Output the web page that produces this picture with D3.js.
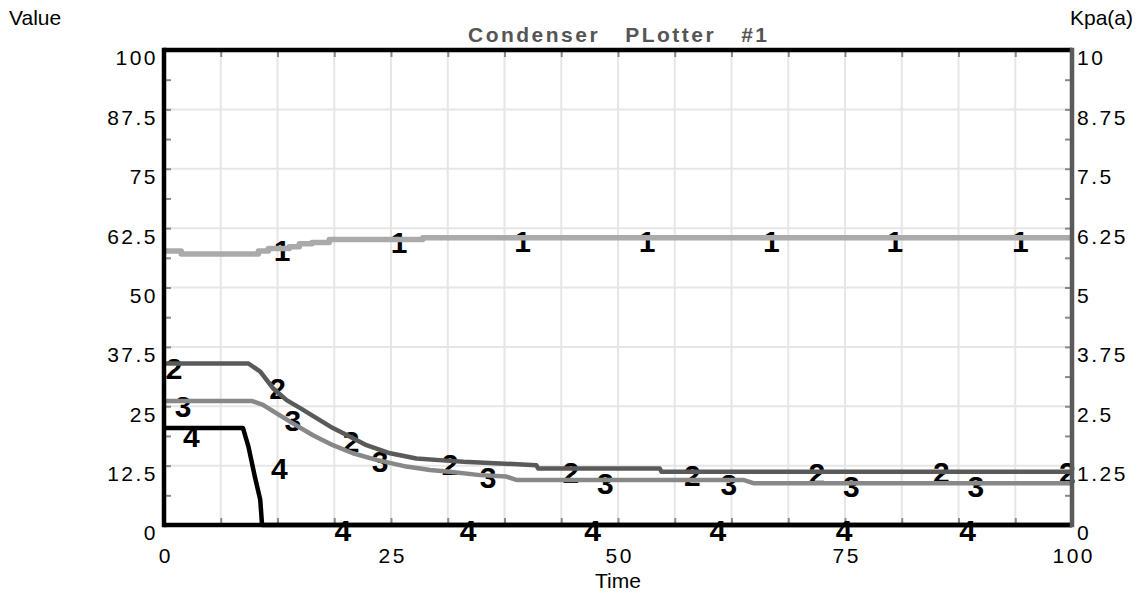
<!DOCTYPE html>
<html>
<head>
<meta charset="utf-8">
<script src="https://cdn.jsdelivr.net/npm/d3@7"></script>
<style>
  html, body { margin: 0; padding: 0; background: #fff; }
  svg { display: block; font-family: "Liberation Sans", Arial, sans-serif; }
</style>
</head>
<body>
<svg id="chart" width="1140" height="598"></svg>
<script>
// ---------- data ----------
const chartTitle = "Condenser   PLotter   #1";
const leftAxisTitle = "Value";
const rightAxisTitle = "Kpa(a)";
const xAxisTitle = "Time";

const xTickValues = [0, 25, 50, 75, 100];
const leftTickValues = [0, 12.5, 25, 37.5, 50, 62.5, 75, 87.5, 100];
const rightTickLabels = ["0", "1.25", "2.5", "3.75", "5", "6.25", "7.5", "8.75", "10"];

// series 1 (light gray)
const s1T = [0, 1.9, 10.4, 11.5, 13.8, 14.9, 16.3, 18.2, 28.5, 100];
const s1V = [57.7, 57.05, 57.7, 58.2, 58.6, 59.2, 59.5, 60.1, 60.5, 60.5];
// series 2 (dark gray)
const s2T = [0, 9.3, 10.6, 12.0, 13.5, 15.0, 16.8, 18.6, 20.5, 22.3, 24.9, 27.8, 31.5, 33, 41, 41.2, 54.6, 54.8, 100];
const s2V = [34.0, 34.0, 32.3, 28.8, 26.3, 24.6, 22.5, 20.4, 18.6, 16.8, 15.1, 14.0, 13.5, 13.3, 12.6, 11.9, 11.9, 11.2, 11.2];
// series 3 (mid gray)
const s3T = [0, 9.7, 10.9, 12.4, 14.2, 16.4, 18.6, 20.8, 23.4, 26.7, 29.3, 31.5, 34.8, 37.7, 38.8, 63.8, 64.9, 100];
const s3V = [26.1, 26.1, 25.3, 23.5, 21.4, 18.9, 16.8, 15.1, 13.7, 12.3, 11.6, 11.2, 10.5, 10.2, 9.5, 9.5, 8.8, 8.8];
// series 4 (black)
const s4T = [0, 8.7, 9.3, 10.0, 10.6, 10.8, 100];
const s4V = [20.4, 20.4, 16.5, 10.2, 5.3, 0, 0];

// curve marker labels
const lab1T = [13.0, 25.9, 39.5, 53.2, 66.9, 80.5, 94.3];
const lab1V = [57.9, 59.6, 59.8, 59.8, 59.8, 59.8, 59.8];
const lab2T = [1.1, 12.5, 20.6, 31.5, 44.8, 58.2, 71.9, 85.6, 99.5];
const lab2V = [33.0, 28.9, 17.6, 12.8, 11.1, 10.4, 10.9, 11.2, 11.2];
const lab3T = [2.1, 14.2, 23.8, 35.7, 48.6, 62.2, 75.7, 89.4];
const lab3V = [25.1, 22.1, 13.5, 10.0, 8.8, 8.6, 8.1, 8.1];
const lab4T = [3.0, 12.7, 19.7, 33.5, 47.2, 61.0, 74.9, 88.5];
const lab4V = [18.8, 11.9, -1.0, -1.0, -1.0, -1.0, -1.0, -1.0];

// ---------- layout ----------
const L = 164, R = 1072, T = 50, B = 525;
const svg = d3.select("#chart");
const x = d3.scaleLinear().domain([0, 100]).range([L, R]);
const y = d3.scaleLinear().domain([0, 100]).range([B, T]);
const yR = d3.scaleLinear().domain([0, 10]).range([B, T]);

const minorX = d3.range(0, 100.001, 6.25);
const minorY = d3.range(0, 100.001, 6.25);
const minorYR = d3.range(0, 10.0001, 0.625);

// grid
const grid = svg.append("g");
grid.selectAll("line.v").data(minorX).join("line")
  .attr("x1", d => x(d)).attr("x2", d => x(d)).attr("y1", T).attr("y2", B)
  .attr("stroke", "#e6e6e6").attr("stroke-width", 2);
grid.selectAll("line.h").data(leftTickValues).join("line")
  .attr("x1", L).attr("x2", R).attr("y1", d => y(d)).attr("y2", d => y(d))
  .attr("stroke", "#e6e6e6").attr("stroke-width", 2);

// minor ticks (inward)
function tickAxis(axis, tx, ty) {
  const g = svg.append("g").attr("transform", `translate(${tx},${ty})`).call(axis);
  g.select(".domain").remove();
  g.selectAll("text").remove();
  g.selectAll("line").attr("stroke", "#8a8a8a").attr("stroke-width", 2);
}
tickAxis(d3.axisLeft(y).tickValues(minorY).tickSize(-7), L, 0);
tickAxis(d3.axisRight(yR).tickValues(minorYR).tickSize(-7), R, 0);
tickAxis(d3.axisTop(x).tickValues(minorX).tickSize(-7), 0, T);
tickAxis(d3.axisBottom(x).tickValues(minorX).tickSize(-7), 0, B);

// label axes
const tickFont = 21, ls = 2.5;
const gl = svg.append("g").attr("transform", `translate(${L},0)`)
  .call(d3.axisLeft(y).tickValues(leftTickValues).tickSize(0).tickPadding(6).tickFormat(d => String(d)));
gl.select(".domain").remove();
gl.selectAll("text").attr("dy", "0.71em").attr("font-size", tickFont).attr("letter-spacing", ls)
  .attr("fill", "#000").attr("font-family", null);

const rightVals = rightTickLabels.map(Number);
const gr = svg.append("g").attr("transform", `translate(${R},0)`)
  .call(d3.axisRight(yR).tickValues(rightVals).tickSize(0).tickPadding(5)
    .tickFormat((d, i) => rightTickLabels[i]));
gr.select(".domain").remove();
gr.selectAll("text").attr("dy", "0.71em").attr("font-size", tickFont).attr("letter-spacing", ls)
  .attr("fill", "#000").attr("font-family", null);

const gb = svg.append("g").attr("transform", `translate(0,${B})`)
  .call(d3.axisBottom(x).tickValues(xTickValues).tickSize(0).tickPadding(23).tickFormat(d => String(d)));
gb.select(".domain").remove();
gb.selectAll("text").attr("font-size", tickFont).attr("letter-spacing", ls)
  .attr("dx", ls / 2).attr("fill", "#000").attr("font-family", null);

// curve labels (drawn under the lines)
const labelSets = [[lab1T, lab1V, "1"], [lab2T, lab2V, "2"], [lab3T, lab3V, "3"], [lab4T, lab4V, "4"]];
const labG = svg.append("g");
labelSets.forEach(([ts, vs, txt]) => {
  labG.selectAll(null).data(ts.map((t, i) => [t, vs[i]])).join("text")
    .attr("x", d => x(d[0])).attr("y", d => y(d[1]))
    .attr("dy", "0.36em").attr("text-anchor", "middle")
    .attr("font-size", 30).attr("font-weight", "bold").attr("fill", "#000")
    .text(txt);
});

// series lines
const line = d3.line().x(d => x(d[0])).y(d => y(d[1]));
const series = [
  {t: s1T, v: s1V, color: "#aaaaaa", w: 5.5, curve: d3.curveStepAfter},
  {t: s3T, v: s3V, color: "#888888", w: 4.5, curve: d3.curveLinear},
  {t: s2T, v: s2V, color: "#5a5a5a", w: 4.5, curve: d3.curveLinear},
  {t: s4T, v: s4V, color: "#000000", w: 4.5, curve: d3.curveLinear}
];
series.forEach(s => {
  svg.append("path")
    .datum(s.t.map((t, i) => [t, s.v[i]]))
    .attr("d", line.curve(s.curve))
    .attr("fill", "none").attr("stroke", s.color).attr("stroke-width", s.w)
    .attr("stroke-linejoin", "round");
});

// frame
svg.append("line").attr("x1", L).attr("x2", R).attr("y1", T).attr("y2", T).attr("stroke", "#000").attr("stroke-width", 4.5);
svg.append("line").attr("x1", L).attr("x2", R).attr("y1", B).attr("y2", B).attr("stroke", "#000").attr("stroke-width", 4.5);
svg.append("line").attr("x1", L).attr("x2", L).attr("y1", T - 2.25).attr("y2", B + 2.25).attr("stroke", "#000").attr("stroke-width", 4.5);
svg.append("line").attr("x1", R).attr("x2", R).attr("y1", T - 2.25).attr("y2", B + 2.25).attr("stroke", "#5a5a5a").attr("stroke-width", 4.5);

// titles
svg.append("text").attr("x", 617.5 + 1.25).attr("y", 42).attr("text-anchor", "middle")
  .attr("font-size", 21).attr("font-weight", "bold").attr("fill", "#555").attr("letter-spacing", 2.5)
  .style("white-space", "pre").text(chartTitle);
svg.append("text").attr("x", 9).attr("y", 25).attr("font-size", 21).attr("fill", "#000").text(leftAxisTitle);
svg.append("text").attr("x", 1133).attr("y", 25).attr("text-anchor", "end").attr("font-size", 21).attr("fill", "#000").text(rightAxisTitle);
svg.append("text").attr("x", 618).attr("y", 588).attr("text-anchor", "middle").attr("font-size", 21).attr("fill", "#000").text(xAxisTitle);
</script>
</body>
</html>
